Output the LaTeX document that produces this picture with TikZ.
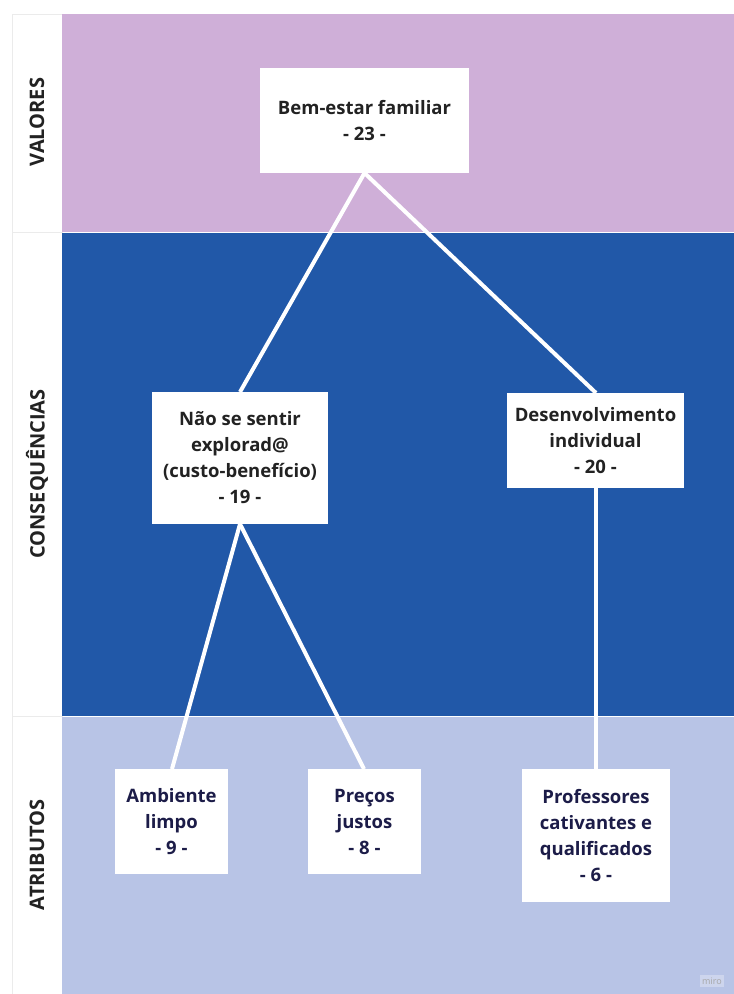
\documentclass[tikz,border=0pt]{standalone}
\usepackage{fontspec}
\setmainfont{Open Sans}
\definecolor{valc}{HTML}{CFAFD8}
\definecolor{conc}{HTML}{2158A8}
\definecolor{atrc}{HTML}{B8C4E6}
\definecolor{darktxt}{HTML}{222222}
\definecolor{navytxt}{HTML}{1C1C48}
\definecolor{sepc}{HTML}{EBEBEB}
\begin{document}
\begin{tikzpicture}[x=1pt,y=-1pt,
  lab/.style={rotate=90,font=\fontsize{20}{24}\selectfont\bfseries,text=darktxt},
  card/.style={fill=white,draw=none,inner sep=0pt,align=center,
    font=\fontsize{18.5}{26}\selectfont\bfseries},
  link/.style={draw=white,line width=4pt}]
\useasboundingbox (0,0) rectangle (734,994);
\fill[white] (0,0) rectangle (734,994);
% left column
\draw[sepc,fill=white] (12,14) rectangle (62,232);
\draw[sepc,fill=white] (12,232) rectangle (62,716);
\draw[sepc,fill=white] (12,716) rectangle (62,994);
% bands
\fill[valc] (62,14) rectangle (734,231.5);
\fill[conc] (62,232.5) rectangle (734,715.5);
\fill[atrc] (62,716.5) rectangle (734,994);
% band labels
\node[lab] (lv) at (37,122) {VALORES};
\node[lab] (lc) at (37,474) {CONSEQUÊNCIAS};
\node[lab] (la) at (37,855) {ATRIBUTOS};
% cards
\node[card,text=darktxt,minimum width=209pt,minimum height=105pt] (be) at (364.5,120.5) {Bem-estar familiar\\- 23 -};
\node[card,text=darktxt,minimum width=176pt,minimum height=132pt] (ns) at (240,458) {Não se sentir\\explorad@\\(custo-benefício)\\- 19 -};
\node[card,text=darktxt,minimum width=177pt,minimum height=95pt] (de) at (595.5,440.5) {Desenvolvimento\\individual\\- 20 -};
\node[card,text=navytxt,minimum width=113pt,minimum height=105pt] (am) at (171.5,821.5) {Ambiente\\limpo\\- 9 -};
\node[card,text=navytxt,minimum width=113pt,minimum height=105pt] (pr) at (364.5,821.5) {Preços\\justos\\- 8 -};
\node[card,text=navytxt,minimum width=148pt,minimum height=133pt] (pf) at (596,835.5) {Professores\\cativantes e\\qualificados\\- 6 -};
% connectors
\coordinate (beb) at (364.5,173);
\coordinate (nst) at (240,392);
\coordinate (nsb) at (240,524);
\coordinate (det) at (596,393);
\coordinate (deb) at (596,488);
\coordinate (amt) at (172,769);
\coordinate (prt) at (364,769);
\coordinate (pft) at (596,769);
\draw[link] (beb) -- (nst);
\draw[link] (beb) -- (det);
\draw[link] (nsb) -- (amt);
\draw[link] (nsb) -- (prt);
\draw[link] (deb) -- (pft);
% watermark
\node[fill=white,fill opacity=0.3,text opacity=1,text=black!35,inner sep=2.5pt,font=\fontsize{9}{10}\selectfont] (mw) at (712,981) {miro};
\end{tikzpicture}
\end{document}
